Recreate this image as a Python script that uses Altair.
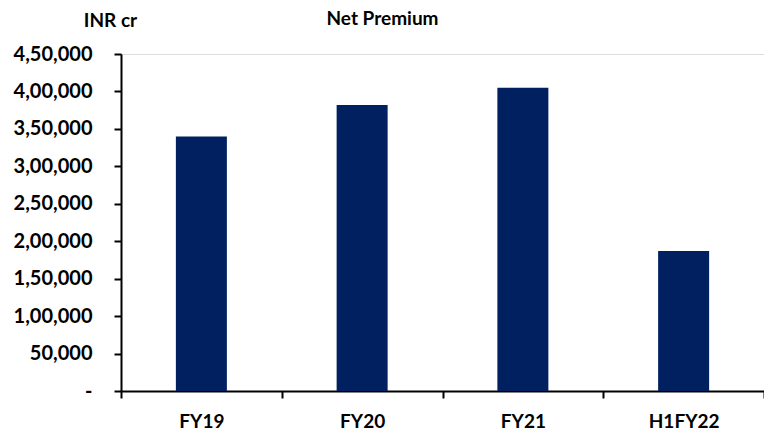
import altair as alt
import pandas as pd

categories = ["FY19", "FY20", "FY21", "H1FY22"]
net_premium = [340000, 382000, 405000, 187000]
y_ticks = [0, 50000, 100000, 150000, 200000, 250000, 300000, 350000, 400000, 450000]

df = pd.DataFrame({"period": categories, "value": net_premium})

FONT = "Lato"
label_expr = (
    "datum.value == 0 ? '-\u2007' : "
    "(datum.value >= 100000 ? floor(datum.value/100000) + ',' + "
    "format((datum.value % 100000)/1000, '02d') + ',000' : format(datum.value, ','))"
)

chart = (
    alt.Chart(df)
    .mark_bar(width=51, color="#002060")
    .encode(
        x=alt.X(
            "period:N",
            sort=categories,
            scale=alt.Scale(paddingInner=0, paddingOuter=0),
            axis=alt.Axis(
                title=None,
                labelAngle=0,
                labelFont=FONT,
                labelFontSize=19,
                labelFontWeight="bold",
                labelColor="black",
                labelPadding=14,
                domainColor="black",
                domainWidth=2,
                tickColor="black",
                tickWidth=2,
                tickSize=7,
                tickBand="extent",
            ),
        ),
        y=alt.Y(
            "value:Q",
            scale=alt.Scale(domain=[0, 450000], nice=False),
            axis=alt.Axis(
                title="INR cr",
                titleAngle=0,
                titleFont=FONT,
                titleFontSize=19,
                titleFontWeight="bold",
                titleColor="black",
                titleAlign="center",
                titleBaseline="middle",
                titleX=-11,
                titleY=-34,
                values=y_ticks,
                labelExpr=label_expr,
                labelFont=FONT,
                labelFontSize=20,
                labelFontWeight="bold",
                labelColor="black",
                labelPadding=22,
                domainColor="black",
                domainWidth=2,
                tickColor="black",
                tickWidth=2,
                tickSize=7,
                grid=False,
            ),
        ),
    )
    .properties(
        width=643,
        height=337,
        title=alt.TitleParams(
            "Net Premium",
            font=FONT,
            fontSize=19,
            fontWeight="bold",
            color="black",
            anchor="middle",
            frame="group",
            dx=-60,
            dy=22,
        ),
        autosize=alt.AutoSizeParams(type="none"),
        padding={"left": 121, "top": 54, "right": 0, "bottom": 46},
    )
    .configure_view(stroke=None)
    .configure(background="white")
)

chart.save("out.html", embed_options={"renderer": "svg", "actions": False})
